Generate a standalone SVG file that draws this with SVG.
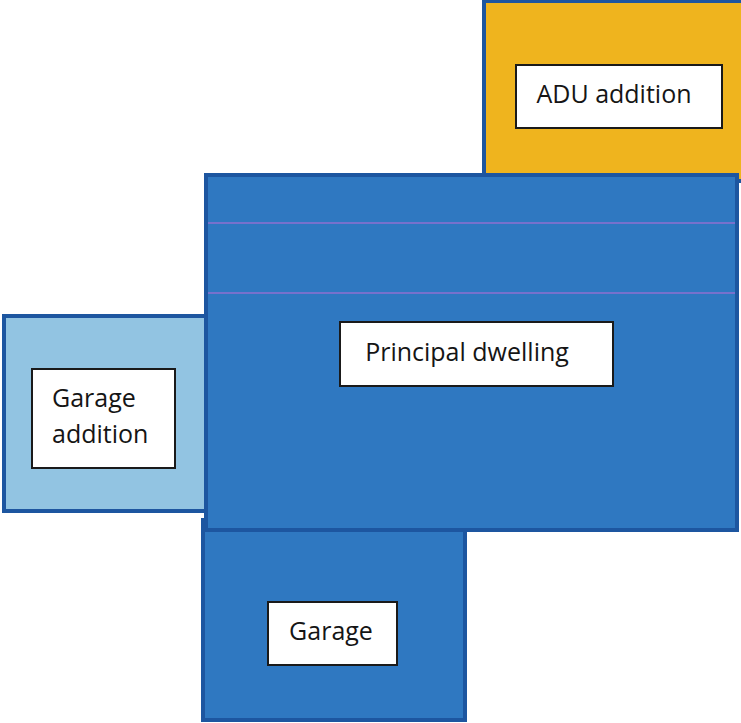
<svg xmlns="http://www.w3.org/2000/svg" width="741" height="723" viewBox="0 0 741 723">
<style>
.bld{stroke:#1d56a0;stroke-width:4}
.blue{fill:#2f78c1}
.lbl{fill:#ffffff;stroke:#1a1a1a;stroke-width:2}
.t{font-family:"Open Sans","Liberation Sans",sans-serif;font-size:25px;fill:#151515}
</style>
<rect width="741" height="723" fill="#ffffff"/>
<g id="adu">
<rect class="bld" x="484" y="1" width="260" height="180" fill="#efb41e"/>
<rect class="lbl" x="516" y="65" width="206" height="63"/>
<text class="t" x="614" y="103" text-anchor="middle">ADU addition</text>
</g>
<g id="garage-addition">
<rect class="bld" x="4" y="316" width="204" height="195" fill="#92c4e2"/>
<rect class="lbl" x="32" y="369" width="143" height="99"/>
<text class="t" x="52" y="407">Garage</text>
<text class="t" x="52" y="443">addition</text>
</g>
<g id="garage">
<rect class="bld blue" x="203" y="520" width="262" height="200"/>
<rect class="lbl" x="268" y="602" width="129" height="63"/>
<text class="t" x="331" y="640" text-anchor="middle">Garage</text>
</g>
<g id="principal">
<rect class="bld blue" x="206" y="175" width="531" height="355"/>
<line x1="208" y1="223" x2="735" y2="223" stroke="#c06ad8" stroke-width="1"/>
<line x1="208" y1="293" x2="735" y2="293" stroke="#c06ad8" stroke-width="1"/>
<rect class="lbl" x="340" y="322" width="273" height="64"/>
<text class="t" x="467" y="361" text-anchor="middle">Principal dwelling</text>
</g>
<g id="connectors"></g>
</svg>
